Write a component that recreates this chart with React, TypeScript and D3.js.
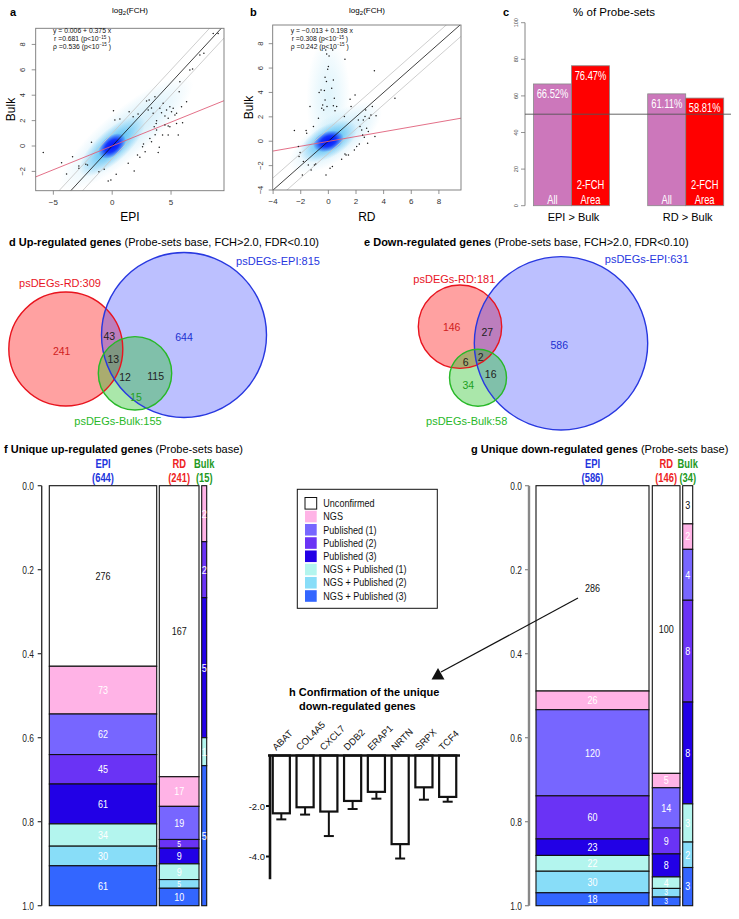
import React from "react";
import * as d3 from "d3";

const W = 739;
const H = 919;
const FONT = "'Liberation Sans', Arial, Helvetica, sans-serif";

// ---------- Panel a: EPI vs Bulk log2(FCH) ----------
const epiBulkPoints: [number, number][] = [
  [-5.86, -0.52], [-4.3, -1.31], [-3.37, -0.84], [-3.88, -2.2], [-2.83, -1.57], [-2.83, -1.76],
  [-2.24, -1.44], [-2.1, -1.5], [-1.76, 0.29], [-1.13, -2.02], [-0.68, -1.84], [-0.34, -2.76],
  [-0.11, -2.68], [0.34, -2.23], [0.11, 2.78], [0.23, 2.05], [0.65, 2.13], [1.36, -1.36],
  [1.87, -1.97], [1.44, 2.7], [1.78, 2.31], [2.2, 2.52], [2.15, -0.71], [2.35, -0.89],
  [2.58, -0.05], [2.66, 0.16], [2.8, -0.45], [2.92, 3.54], [3.14, 3.62], [3.06, 2.83],
  [3.34, 3.0], [3.48, 2.57], [3.77, 1.99], [3.57, 1.52], [3.77, 1.26], [3.65, 0.89],
  [3.74, 1.78], [3.91, -0.52], [4.0, -0.1], [3.2, 0.6], [3.34, 0.34], [3.63, 3.88],
  [4.05, 2.97], [4.19, 2.62], [4.33, 3.36], [4.48, 2.36], [4.62, 2.83], [4.76, 2.18],
  [4.28, 0.87], [4.76, 0.87], [4.76, 1.57], [4.9, 3.1], [5.04, 2.7], [5.18, 2.97],
  [5.33, 2.44], [5.47, 2.57], [5.61, 0.87], [5.47, 1.78], [5.69, 4.28], [5.75, 5.07],
  [5.98, 1.84], [5.89, 3.1], [6.32, 3.49], [6.6, 5.98], [6.83, 6.06], [7.45, 7.17],
  [7.79, 7.3], [8.58, 8.87], [9.0, 8.87], [4.9, 1.52], [4.48, 1.65],
];
const fitA = [0.006, 0.375];
const statsA = ["0.006", "0.375", "0.681", "0.536"];

// ---------- Panel b: RD vs Bulk log2(FCH) ----------
const rdBulkPoints: [number, number][] = [
  [-2.46, 0.87], [-2.17, -0.44], [-2.05, -0.93], [-2.12, -1.26], [-1.81, -1.67], [-1.88, -2.76],
  [-1.61, 0.87], [-1.57, 0.66], [-1.45, -1.94], [-1.33, 2.84], [-1.25, -2.35], [-1.08, 1.2],
  [-1.01, -1.94], [-0.92, -1.86], [-0.72, 1.89], [-0.67, 3.99], [-0.53, 4.21], [-0.48, 2.7],
  [-0.41, 2.98], [-0.34, 2.57], [-0.29, 4.15], [-0.24, 5.25], [-0.24, 3.39], [-0.19, 7.49],
  [-0.14, 4.89], [-0.1, 2.84], [-0.12, 7.16], [-0.05, 5.9], [0, 6.12], [0.05, 6.99],
  [-0.17, -2.76], [0.12, -2.21], [0.29, -2.08], [0.24, 4.34], [0.36, 5.03], [0.43, 3.52],
  [0.36, 2.9], [0.48, 2.49], [0.31, 7.49], [0.6, 2.84], [0.96, -1.48], [1.16, 2.02],
  [1.2, -1.04], [1.28, -1.12], [1.45, -1.12], [1.57, 3.44], [1.64, 2.84], [1.2, 6.72],
  [1.93, 3.8], [1.88, -0.71], [2.05, -0.44], [2.17, 1.75], [2.24, -0.22], [2.29, 1.2],
  [2.41, 0.93], [2.48, 0.52], [2.53, 1.75], [2.6, 0.33], [2.65, 2.02], [2.7, 2.57],
  [2.77, 1.07], [2.84, -0.16], [2.89, 0.79], [2.96, 1.89], [3.08, 2.16], [3.18, 2.84],
  [3.33, 5.77], [3.37, 0.38], [3.45, 2.08], [4.82, 3.52],
];
const fitB = [-0.013, 0.198];
const statsB = ["\u22120.013", "0.198", "0.308", "0.242"];

// ---------- Panel c ----------
const probeCategories = ["EPI > Bulk", "RD > Bulk"];
const pctAll = [66.52, 61.11];
const pct2FCH = [76.47, 58.81];
const pctTicks = [0, 20, 40, 60, 80, 100];

// ---------- Panels d / e (Venn) ----------
const upSetLabels = ["psDEGs-RD:309", "psDEGs-EPI:815", "psDEGs-Bulk:155"];
const upCounts = ["241", "644", "43", "13", "12", "115", "15"];
const downSetLabels = ["psDEGs-RD:181", "psDEGs-EPI:631", "psDEGs-Bulk:58"];
const downCounts = ["146", "586", "27", "6", "2", "16", "34"];

// ---------- Panels f / g ----------
const confirmCats = [
  "Unconfirmed", "NGS", "Published (1)", "Published (2)", "Published (3)",
  "NGS + Published (1)", "NGS + Published (2)", "NGS + Published (3)",
];
const upEPI = [276, 73, 62, 45, 61, 34, 30, 61];
const upRD = [167, 17, 19, 5, 9, 9, 5, 10];
const upBulk = [0, 2, 0, 2, 5, 1, 0, 5];
const downEPI = [286, 26, 120, 60, 23, 22, 30, 18];
const downRD = [100, 5, 14, 9, 8, 4, 3, 3];
const downBulk = [3, 2, 4, 8, 8, 3, 2, 3];
const groupNames = ["EPI", "RD", "Bulk"];
const upTotals = ["(644)", "(241)", "(15)"];
const downTotals = ["(586)", "(146)", "(34)"];
const fracTicks = [0, 0.2, 0.4, 0.6, 0.8, 1.0];

// ---------- Panel h ----------
const genes = ["ABAT", "COL4A5", "CXCL7", "DDB2", "ERAP1", "NRTN", "SRPX", "TCF4"];
const geneMeans = [-2.29, -2.05, -2.22, -1.8, -1.44, -3.51, -1.26, -1.64];
const geneErr = [0.24, 0.29, 0.97, 0.32, 0.27, 0.57, 0.49, 0.19];
const hTicks = [-2.0, -4.0];

const catColors = ["#ffffff", "#ffb3e6", "#7766ff", "#6a33f5", "#2200e6", "#b3f5ee", "#88ddf8", "#3366ff"];
const groupColors = ["#2233dd", "#ee2222", "#229922"];

// condensed text (R-style narrow Helvetica)
function NText(props: any) {
  const { x, y, sx = 0.8, children, ...rest } = props;
  return (
    <text transform={`translate(${x},${y}) scale(${sx},1)`} fontFamily={FONT} {...rest}>
      {children}
    </text>
  );
}

type Cloud = { cx: number; cy: number; rx: number; ry: number; rot: number; color: string; op: number; mid?: number; midOp?: number };

function Scatter(props: {
  id: string; pts: [number, number][]; xDom: number[]; xRange: number[]; yDom: number[]; yRange: number[];
  xTicks: number[]; yTicks: number[]; fit: number[]; stats: string[]; xLabel: string; letter: string;
  letterX: number; titleX: number; statX: number; clouds: Cloud[]; ylabX: number; tickLabX: number;
}) {
  const { id, pts, xDom, xRange, yDom, yRange, xTicks, yTicks, fit, stats, xLabel, letter, letterX, titleX, statX, clouds, ylabX, tickLabX } = props;
  const x = d3.scaleLinear().domain(xDom).range(xRange);
  const y = d3.scaleLinear().domain(yDom).range(yRange);
  const [l, r] = xRange;
  const [b, t] = yRange;
  const line = d3.line<number[]>().x((v) => x(v[0])).y((v) => y(v[1]));
  const seg = (f: (v: number) => number) =>
    line([[xDom[0] - 2, f(xDom[0] - 2)], [xDom[1] + 2, f(xDom[1] + 2)]]) as string;
  const fmt = (v: number) => (v < 0 ? `\u2212${-v}` : `${v}`);
  return (
    <g>
      <defs>
        <clipPath id={`clip-${id}`}>
          <rect x={l} y={t} width={r - l} height={b - t} />
        </clipPath>
        {clouds.map((c, i) => (
          <radialGradient key={i} id={`grad-${id}-${i}`}>
            <stop offset="0" stopColor={c.color} stopOpacity={c.op} />
            <stop offset={c.mid ?? 0.45} stopColor={c.color} stopOpacity={c.op * (c.midOp ?? 0.6)} />
            <stop offset="1" stopColor={c.color} stopOpacity={0} />
          </radialGradient>
        ))}
      </defs>
      <text x={letterX} y={16} fontFamily={FONT} fontWeight="bold" fontSize={11}>{letter}</text>
      <text x={titleX} y={13} fontFamily={FONT} fontSize={8} textAnchor="middle">
        log<tspan fontSize={6} dy={2}>2</tspan><tspan dy={-2}>(FCH)</tspan>
      </text>
      <g clipPath={`url(#clip-${id})`}>
        {clouds.map((c, i) => (
          <ellipse key={i} cx={x(c.cx)} cy={y(c.cy)} rx={c.rx} ry={c.ry}
            transform={`rotate(${c.rot} ${x(c.cx)} ${y(c.cy)})`} fill={`url(#grad-${id}-${i})`} />
        ))}
        <path d={seg((v) => v + 1)} stroke="#c8c8c8" strokeWidth={0.9} fill="none" />
        <path d={seg((v) => v - 1)} stroke="#c8c8c8" strokeWidth={0.9} fill="none" />
        <path d={seg((v) => v)} stroke="#111" strokeWidth={0.8} fill="none" />
        <path d={seg((v) => fit[0] + fit[1] * v)} stroke="#e0607a" strokeWidth={0.9} fill="none" />
        {pts.map((p, i) => (
          <circle key={i} cx={x(p[0])} cy={y(p[1])} r={0.75} fill="#1a1a1a" />
        ))}
      </g>
      <rect x={l} y={t} width={r - l} height={b - t} fill="none" stroke="#777" strokeWidth={0.9} />
      {xTicks.map((v) => (
        <g key={v}>
          <line x1={x(v)} x2={x(v)} y1={b} y2={b + 4} stroke="#777" strokeWidth={0.8} />
          <text x={x(v)} y={b + 14} fontFamily={FONT} fontSize={8} textAnchor="middle" fill="#333">{fmt(v)}</text>
        </g>
      ))}
      {yTicks.map((v) => (
        <g key={v}>
          <line x1={l - 4} x2={l} y1={y(v)} y2={y(v)} stroke="#777" strokeWidth={0.8} />
          <text transform={`translate(${tickLabX},${y(v)}) rotate(-90)`} fontFamily={FONT} fontSize={7.5}
            textAnchor="middle" dominantBaseline="central" fill="#333">{fmt(v)}</text>
        </g>
      ))}
      <text transform={`translate(${ylabX},${(t + b) / 2}) rotate(-90)`} fontFamily={FONT} fontSize={12}
        textAnchor="middle" dominantBaseline="central">Bulk</text>
      <text x={(l + r) / 2} y={221} fontFamily={FONT} fontSize={12} textAnchor="middle">{xLabel}</text>
      <g fontFamily={FONT} fontSize={6.8} fill="#111">
        <text x={statX} y={33}>y = {stats[0]} + {stats[1]} x</text>
        <text x={statX + 1} y={41}>r ={stats[2]}  (p&lt;10<tspan fontSize={4.5} dy={-2.5}>{"\u221215"}</tspan><tspan dy={2.5}> )</tspan></text>
        <text x={statX} y={48.5}>ρ ={stats[3]}  (p&lt;10<tspan fontSize={4.5} dy={-2.5}>{"\u221215"}</tspan><tspan dy={2.5}> )</tspan></text>
      </g>
    </g>
  );
}

function PanelC() {
  const y = d3.scaleLinear().domain([0, 100]).range([205.7, 22.7]);
  const x0 = d3.scaleBand<string>().domain(probeCategories).range([514.4, 742.8]);
  const barW = 38;
  return (
    <g>
      <text x={503} y={16} fontFamily={FONT} fontWeight="bold" fontSize={11}>c</text>
      <text x={614} y={16} fontFamily={FONT} fontSize={11.5} textAnchor="middle">% of Probe-sets</text>
      <line x1={525} x2={525} y1={y(0)} y2={y(100)} stroke="#777" strokeWidth={0.9} />
      {pctTicks.map((v) => (
        <g key={v}>
          <line x1={521} x2={525} y1={y(v)} y2={y(v)} stroke="#777" strokeWidth={0.8} />
          <text transform={`translate(${516},${y(v)}) rotate(-90)`} fontFamily={FONT} fontSize={5.5}
            textAnchor="middle" dominantBaseline="central" fill="#444">{v}</text>
        </g>
      ))}
      {probeCategories.map((c, i) => {
        const cx = (x0(c) as number) + x0.bandwidth() / 2;
        const vals = [pctAll[i], pct2FCH[i]];
        return (
          <g key={c}>
            {vals.map((v, j) => {
              const bx = cx - barW + j * barW;
              const mx = bx + barW / 2;
              return (
                <g key={j}>
                  <rect x={bx} y={y(v)} width={barW} height={y(0) - y(v)} fill={j === 0 ? "#cc77bb" : "#ff0000"} stroke="#888" strokeWidth={0.8} />
                  <NText x={mx} y={y(v) + 14} sx={0.78} fontSize={12} fill="#fff" textAnchor="middle">{v.toFixed(2)}%</NText>
                  {j === 0 ? (
                    <NText x={mx} y={204} sx={0.78} fontSize={12} fill="#fff" textAnchor="middle">All</NText>
                  ) : (
                    <g>
                      <NText x={mx} y={189} sx={0.78} fontSize={12} fill="#fff" textAnchor="middle">2-FCH</NText>
                      <NText x={mx} y={203.5} sx={0.78} fontSize={12} fill="#fff" textAnchor="middle">Area</NText>
                    </g>
                  )}
                </g>
              );
            })}
            <text x={cx + 2} y={221} fontFamily={FONT} fontSize={11} textAnchor="middle">{c}</text>
          </g>
        );
      })}
      <line x1={525} x2={731} y1={y(50)} y2={y(50)} stroke="#555" strokeWidth={0.9} />
    </g>
  );
}

type Circ = { cx: number; cy: number; r: number };
function Venn(props: {
  letter: string; title: string; tx: number; circles: Circ[]; labels: string[]; labelPos: number[][];
  counts: string[]; countPos: number[][];
}) {
  const { letter, title, tx, circles, labels, labelPos, counts, countPos } = props;
  const fills = ["#ff2020", "#2030ff", "#20c020"];
  const fillOp = [0.42, 0.3, 0.38];
  const strokes = ["#e8141e", "#2838e0", "#28b828"];
  const countColors = ["#d02020", "#2030d0", "#222", "#222", "#222", "#222", "#20a020"];
  return (
    <g fontFamily={FONT}>
      <text x={tx} y={246} fontSize={11}>
        <tspan fontWeight="bold">{letter} {title}</tspan> (Probe-sets base, FCH&gt;2.0, FDR&lt;0.10)
      </text>
      {circles.map((c, i) => (
        <circle key={"f" + i} cx={c.cx} cy={c.cy} r={c.r} fill={fills[i]} fillOpacity={fillOp[i]} />
      ))}
      {circles.map((c, i) => (
        <circle key={"s" + i} cx={c.cx} cy={c.cy} r={c.r} fill="none" stroke={strokes[i]} strokeWidth={1.4} />
      ))}
      {labels.map((s, i) => (
        <text key={s} x={labelPos[i][0]} y={labelPos[i][1]} fontSize={11} fill={strokes[i]} textAnchor="middle" dominantBaseline="central">{s}</text>
      ))}
      {counts.map((s, i) => (
        <text key={i} x={countPos[i][0]} y={countPos[i][1]} fontSize={10.5} fill={countColors[i]} textAnchor="middle" dominantBaseline="central">{s}</text>
      ))}
    </g>
  );
}

function Stacked(props: {
  letter: string; title: string; tx: number; ty: number; groups: number[][]; totals: string[];
  cols: number[][]; axisX: number; axisColor: string; axisW: number; labX: number;
}) {
  const { letter, title, tx, ty, groups, totals, cols, axisX, axisColor, axisW, labX } = props;
  const y = d3.scaleLinear().domain([0, 1]).range([485.7, 905.7]);
  return (
    <g>
      <text x={tx} y={ty} fontFamily={FONT} fontSize={11}>
        <tspan fontWeight="bold">{letter} {title}</tspan> (Probe-sets base)
      </text>
      <line x1={axisX} x2={axisX} y1={y(0)} y2={y(1)} stroke={axisColor} strokeWidth={axisW} />
      {fracTicks.map((v) => (
        <g key={v}>
          <line x1={axisX - 4} x2={axisX} y1={y(v)} y2={y(v)} stroke={axisColor} strokeWidth={1.2} />
          <NText x={labX} y={y(v)} sx={0.8} fontSize={10.5} textAnchor="end" dominantBaseline="central" fill="#222">{v.toFixed(1)}</NText>
        </g>
      ))}
      {groups.map((vals, gi) => {
        const total = d3.sum(vals);
        const ends = d3.cumsum(vals).map((v) => v / total);
        const [x0, x1] = cols[gi];
        const cx = (x0 + x1) / 2;
        return (
          <g key={gi}>
            <NText x={cx} y={467.5} sx={0.78} fontWeight="bold" fontSize={12} fill={groupColors[gi]} textAnchor="middle">{groupNames[gi]}</NText>
            <NText x={cx} y={482} sx={0.78} fontWeight="bold" fontSize={12} fill={groupColors[gi]} textAnchor="middle">{totals[gi]}</NText>
            {vals.map((v, i) => {
              if (v === 0) return null;
              const s = i === 0 ? 0 : ends[i - 1];
              const e = ends[i];
              const hgt = y(e) - y(s);
              return (
                <g key={i}>
                  <rect x={x0} y={y(s)} width={x1 - x0} height={hgt} fill={catColors[i]} stroke="#111" strokeWidth={1.1} />
                  <NText x={cx} y={(y(s) + y(e)) / 2} sx={0.82} fontSize={Math.min(11, hgt * 0.95)} textAnchor="middle" dominantBaseline="central"
                    fill={i === 0 ? "#111" : "#fff"}>{v}</NText>
                </g>
              );
            })}
          </g>
        );
      })}
    </g>
  );
}

function Legend() {
  const rowY = d3.scaleLinear().domain([0, 7]).range([503.3, 596]);
  return (
    <g>
      <rect x={297.3} y={489.3} width={140} height={119} fill="#fff" stroke="#111" strokeWidth={1} />
      {confirmCats.map((c, i) => (
        <g key={c}>
          <rect x={305} y={rowY(i) - 5.8} width={11.7} height={11.6} fill={catColors[i]} stroke={i === 0 ? "#111" : "none"} strokeWidth={1} />
          <NText x={323.3} y={rowY(i)} sx={0.88} fontSize={10.3} dominantBaseline="central" fill="#111">{c}</NText>
        </g>
      ))}
    </g>
  );
}

function PanelH() {
  const x = d3.scaleBand<string>().domain(genes).range([268, 461]).paddingInner(0.28).paddingOuter(0.2);
  const y = d3.scaleLinear().domain([0, -4]).range([755.5, 856.5]);
  const bw = x.bandwidth();
  return (
    <g fontFamily={FONT}>
      <text x={289} y={696} fontSize={11} fontWeight="bold">h Confirmation of the unique</text>
      <text x={299} y={709.5} fontSize={11} fontWeight="bold">down-regulated genes</text>
      {genes.map((g, i) => {
        const bx = x(g) as number;
        const cx = bx + bw / 2;
        const lo = geneMeans[i] - geneErr[i];
        return (
          <g key={g}>
            <rect x={bx} y={y(0)} width={bw} height={y(geneMeans[i]) - y(0)} fill="#fff" stroke="#111" strokeWidth={2.2} />
            <line x1={cx} x2={cx} y1={y(geneMeans[i])} y2={y(lo)} stroke="#111" strokeWidth={2} />
            <line x1={cx - 5} x2={cx + 5} y1={y(lo)} y2={y(lo)} stroke="#111" strokeWidth={2} />
            <text transform={`translate(${cx - 5},${751}) rotate(-45)`} fontSize={9.5} fill="#111">{g}</text>
          </g>
        );
      })}
      <line x1={268} x2={460} y1={y(0)} y2={y(0)} stroke="#111" strokeWidth={2.6} />
      <line x1={270} x2={270} y1={y(0) - 1} y2={y(-4.9)} stroke="#111" strokeWidth={2.6} />
      {hTicks.map((v) => (
        <g key={v}>
          <line x1={266} x2={270} y1={y(v)} y2={y(v)} stroke="#111" strokeWidth={2} />
          <text x={265} y={y(v)} fontSize={9.5} textAnchor="end" dominantBaseline="central" fill="#111">{`-${(-v).toFixed(1)}`}</text>
        </g>
      ))}
    </g>
  );
}

export default function App() {
  return (
    <svg width={W} height={H} viewBox={`0 0 ${W} ${H}`} style={{ position: "absolute", left: 0, top: 0, background: "#fff" }}>
      <rect x={0} y={0} width={W} height={H} fill="#fff" />
      <Scatter id="a" pts={epiBulkPoints} xDom={[-6.5, 9.5]} xRange={[35.7, 224]} yDom={[-3.52, 9.27]} yRange={[190.7, 28.3]}
        xTicks={[-5, 0, 5]} yTicks={[-2, 0, 2, 4, 6, 8]} fit={fitA} stats={statsA} xLabel="EPI" letter="a" letterX={10}
        titleX={130} statX={53} ylabX={11} tickLabX={22}
        clouds={[
          { cx: 1.2, cy: 1.0, rx: 85, ry: 24, rot: -40, color: "#a6def6", op: 0.6, mid: 0.5, midOp: 0.55 },
          { cx: 0, cy: 0, rx: 42, ry: 16, rot: -42, color: "#33b2f2", op: 0.95, mid: 0.45, midOp: 0.6 },
          { cx: 0, cy: 0, rx: 16, ry: 10, rot: -40, color: "#0010ff", op: 1, mid: 0.5, midOp: 0.8 },
        ]} />
      <Scatter id="b" pts={rdBulkPoints} xDom={[-4.03, 9.6]} xRange={[272.7, 461]} yDom={[-4, 9.53]} yRange={[190, 25]}
        xTicks={[-4, -2, 0, 2, 4, 6, 8]} yTicks={[-4, -2, 0, 2, 4, 6, 8]} fit={fitB} stats={statsB} xLabel="RD" letter="b" letterX={250}
        titleX={367} statX={290.7} ylabX={249} tickLabX={260}
        clouds={[
          { cx: 0, cy: 3.5, rx: 22, ry: 62, rot: 0, color: "#b0e4f7", op: 0.4, mid: 0.5, midOp: 0.6 },
          { cx: 0.5, cy: 0.3, rx: 55, ry: 22, rot: -35, color: "#98daf6", op: 0.6, mid: 0.5, midOp: 0.55 },
          { cx: 0, cy: 0, rx: 32, ry: 16, rot: -30, color: "#33b2f2", op: 0.95, mid: 0.45, midOp: 0.6 },
          { cx: 0, cy: 0, rx: 16, ry: 10, rot: -20, color: "#0010ff", op: 1, mid: 0.5, midOp: 0.8 },
        ]} />
      <PanelC />
      <Venn letter="d" title="Up-regulated genes" tx={9}
        circles={[{ cx: 65.8, cy: 349, r: 57 }, { cx: 184, cy: 335, r: 82.5 }, { cx: 135, cy: 373.3, r: 36.7 }]}
        labels={upSetLabels} labelPos={[[60, 282.7], [278, 261], [118, 421]]}
        counts={upCounts} countPos={[[61.7, 350.7], [184, 336.7], [109.3, 336], [113.3, 359], [125, 376.7], [155.7, 375.7], [136, 397.3]]} />
      <Venn letter="e" title="Down-regulated genes" tx={364}
        circles={[{ cx: 460, cy: 326.7, r: 41.7 }, { cx: 561, cy: 343.3, r: 86.7 }, { cx: 478, cy: 377.7, r: 28.5 }]}
        labels={downSetLabels} labelPos={[[454.3, 279.3], [646.7, 259.3], [466.7, 421]]}
        counts={downCounts} countPos={[[451.7, 327.3], [559.3, 345], [487.3, 331.7], [465.7, 362.3], [480.7, 356.7], [490.7, 374.3], [468.3, 385]]} />
      <Stacked letter="f" title="Unique up-regulated genes" tx={4} ty={453} groups={[upEPI, upRD, upBulk]} totals={upTotals}
        cols={[[49.3, 156.7], [159.3, 199], [201.7, 206.7]]} axisX={41.7} axisColor="#333" axisW={1.4} labX={34} />
      <Stacked letter="g" title="Unique down-regulated genes" tx={471} ty={452.5} groups={[downEPI, downRD, downBulk]} totals={downTotals}
        cols={[[536, 649], [652.3, 680], [682.7, 692.7]]} axisX={529} axisColor="#888" axisW={2.4} labX={522} />
      <Legend />
      <PanelH />
      <line x1={578} y1={598} x2={441} y2={672} stroke="#111" strokeWidth={1.2} />
      <polygon points="438,668 431.5,679.5 444.5,679.5" fill="#111" />
    </svg>
  );
}
